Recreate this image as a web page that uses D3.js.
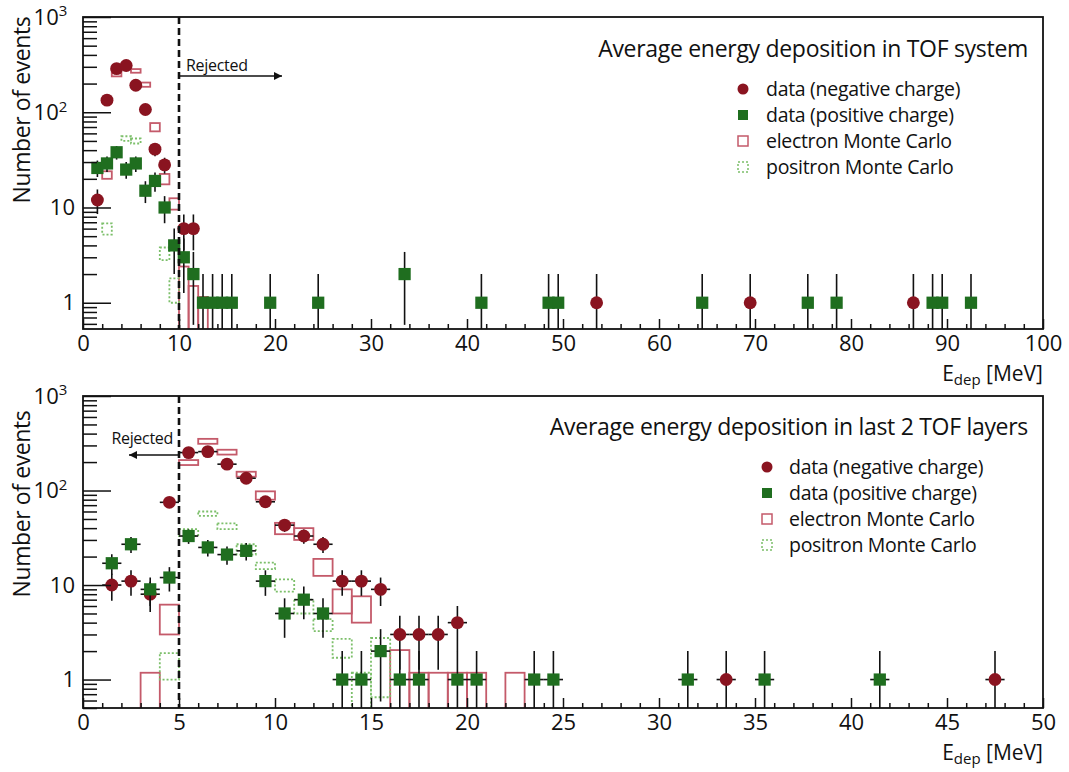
<!DOCTYPE html>
<html><head><meta charset="utf-8">
<script src="https://cdn.jsdelivr.net/npm/d3@7"></script>
<style>
body{margin:0;background:#fff}
svg{display:block}
text{font-family:"Open Sans","DejaVu Sans",sans-serif;fill:#111}
</style>
</head><body>
<svg id="c" width="1069" height="772"></svg>
<script>
// ---------------- DATA ----------------
// Panel 1: average energy deposition in TOF system (bins of 1 MeV)
const topNegE = [1.5,2.5,3.5,4.5,5.5,6.5,7.5,8.5,10.5,11.5,53.5,69.5,86.5];
const topNegN = [12,134,287,310,192,107,41,28,6,6,1,1,1];
const topPosE = [1.5,2.5,3.5,4.5,5.5,6.5,7.5,8.5,9.5,10.5,11.5,12.5,13.5,14.5,15.5,19.5,24.5,33.5,41.5,48.5,49.5,64.5,75.5,78.5,88.5,89.5,92.5];
const topPosN = [26,29,38,25,29,15,19,10,4,3,2,1,1,1,1,1,1,2,1,1,1,1,1,1,1,1,1];
const topElecMcE   = [2.5,3.5,4.5,5.5,6.5,7.5,8.5,9.5,10.5,11.5,12.5];
const topElecMcN   = [22,250,300,272,195,70,20,11,1.3,0.8,0.6];
const topElecMcErr = [2,12,13,12,10,7,2.5,1.5,1.1,0.7,0.55];
const topPosiMcE   = [2.5,4.5,5.5,8.5,9.5];
const topPosiMcN   = [6,53,50,3.3,1.4];
const topPosiMcErr = [0.8,3,3,0.5,0.4];

// Panel 2: average energy deposition in last 2 TOF layers
const botNegE = [1.5,2.5,3.5,4.5,5.5,6.5,7.5,8.5,9.5,10.5,11.5,12.5,13.5,14.5,15.5,16.5,17.5,18.5,19.5,33.5,47.5];
const botNegN = [10,11,8,75,252,258,190,135,76,43,33,27,11,11,9,3,3,3,4,1,1];
const botPosE = [1.5,2.5,3.5,4.5,5.5,6.5,7.5,8.5,9.5,10.5,11.5,12.5,13.5,14.5,15.5,16.5,17.5,19.5,20.5,23.5,24.5,31.5,35.5,41.5];
const botPosN = [17,27,9,12,33,25,21,23,11,5,7,5,1,1,2,1,1,1,1,1,1,1,1,1];
const botElecMcE   = [3.5,4.5,5.5,6.5,7.5,8.5,9.5,10.5,11.5,12.5,13.5,14.5,16.5,17.5,18.5,19.5,20.5,22.5];
const botElecMcN   = [0.6,4.6,198,332,255,149,89,40,35,15.7,7,5.8,1.1,0.6,0.6,0.6,0.6,0.6];
const botElecMcErr = [0.58,1.6,12,20,15,9,9,5.5,5,3.2,2,1.8,0.95,0.58,0.58,0.58,0.58,0.58];
const botPosiMcE   = [4.5,5.5,6.5,7.5,8.5,9.5,10.5,11.5,12.5,13.5,14.5,15.5];
const botPosiMcN   = [1.45,36,57,42,24,16,10,6,3.8,2.2,0.6,1.7];
const botPosiMcErr = [0.45,3,3,3,3,1.3,1.5,1,0.55,0.5,0.58,1.05];

// Texts
const panelTitles = ["Average energy deposition in TOF system", "Average energy deposition in last 2 TOF layers"];
const legendLabels = ["data (negative charge)", "data (positive charge)", "electron Monte Carlo", "positron Monte Carlo"];
const yAxisTitle = "Number of events";
const rejectedLabel = "Rejected";
const topXTicks = [0,10,20,30,40,50,60,70,80,90,100];
const botXTicks = [0,5,10,15,20,25,30,35,40,45,50];
const yMajorTicks = [1,10,100,1000];

// ---------------- STYLE ----------------
const RED = "#8a1420", GREEN = "#1f6e1f", MC_RED = "#c45a6a", MC_GREEN = "#7cbf6a";
const svg = d3.select("#c");
const defs = svg.append("defs");

const panels = [
  {left:83,right:1043,top:17,bottom:329,xDomain:[0,100],yDomain:[0.53,1000],xTicks:topXTicks,xMinorStep:2,cut:10,
   neg:[topNegE,topNegN],pos:[topPosE,topPosN],emc:[topElecMcE,topElecMcN,topElecMcErr],pmc:[topPosiMcE,topPosiMcN,topPosiMcErr],
   title:panelTitles[0],titleY:57,legX:743,legTextX:766,legY:89,ylabY:110,arrowDir:1},
  {left:83,right:1043,top:396,bottom:708,xDomain:[0,50],yDomain:[0.5,1000],xTicks:botXTicks,xMinorStep:1,cut:5,
   neg:[botNegE,botNegN],pos:[botPosE,botPosN],emc:[botElecMcE,botElecMcN,botElecMcErr],pmc:[botPosiMcE,botPosiMcN,botPosiMcErr],
   title:panelTitles[1],titleY:435,legX:767,legTextX:789,legY:467,ylabY:504,arrowDir:-1}
];

defs.append("marker").attr("id","ah").attr("viewBox","0 0 10 10").attr("refX",10).attr("refY",5)
  .attr("markerWidth",14).attr("markerHeight",8).attr("markerUnits","userSpaceOnUse").attr("orient","auto")
  .append("path").attr("d","M0,0 L10,5 L0,10 z").attr("fill","#111");

panels.forEach((p,i)=>{
  const x = d3.scaleLinear().domain(p.xDomain).range([p.left,p.right]);
  const y = d3.scaleLog().domain(p.yDomain).range([p.bottom,p.top]);
  const binW = 1;
  const g = svg.append("g");
  const cid = "clip"+i;
  defs.append("clipPath").attr("id",cid).append("rect")
    .attr("x",p.left).attr("y",p.top).attr("width",p.right-p.left).attr("height",p.bottom-p.top);
  const plot = g.append("g").attr("clip-path",`url(#${cid})`);
  const lo = v => y(Math.max(v, 1e-3));

  // Monte Carlo error boxes
  const mcBoxes = (arr, cls, color, dash) => {
    plot.selectAll("rect."+cls).data(d3.zip(arr[0],arr[1],arr[2])).join("rect")
      .attr("class",cls)
      .attr("x",d=>x(d[0]-binW/2)).attr("width",x(binW)-x(0))
      .attr("y",d=>y(d[1]+d[2])).attr("height",d=>lo(d[1]-d[2])-y(d[1]+d[2]))
      .attr("fill","none").attr("stroke",color).attr("stroke-width",1.8)
      .attr("stroke-dasharray",dash);
  };
  mcBoxes(p.emc,"emc",MC_RED,null);
  mcBoxes(p.pmc,"pmc",MC_GREEN,"2,2");

  // data error bars + markers
  const dataPts = (arr, cls, color, shape) => {
    const pts = d3.zip(arr[0],arr[1]);
    const eg = plot.append("g").attr("stroke","#111").attr("stroke-width",1.6);
    eg.selectAll("line.v").data(pts).join("line").attr("class","v")
      .attr("x1",d=>x(d[0])).attr("x2",d=>x(d[0]))
      .attr("y1",d=>lo(d[1]-Math.sqrt(d[1]))).attr("y2",d=>y(d[1]+Math.sqrt(d[1])));
    eg.selectAll("line.h").data(pts).join("line").attr("class","h")
      .attr("x1",d=>x(d[0]-binW/2)).attr("x2",d=>x(d[0]+binW/2))
      .attr("y1",d=>y(d[1])).attr("y2",d=>y(d[1]));
    const sym = d3.symbol().type(shape==="c"?d3.symbolCircle:d3.symbolSquare).size(shape==="c"?130:150);
    plot.selectAll("path."+cls).data(pts).join("path").attr("class",cls)
      .attr("d",sym).attr("transform",d=>`translate(${x(d[0])},${y(d[1])})`)
      .attr("fill",color);
  };
  dataPts(p.neg,"neg",RED,"c");
  dataPts(p.pos,"pos",GREEN,"s");

  // cut line
  g.append("line").attr("x1",x(p.cut)).attr("x2",x(p.cut)).attr("y1",p.top).attr("y2",p.bottom)
    .attr("stroke","#111").attr("stroke-width",2.6).attr("stroke-dasharray","7,4");

  // Rejected annotation
  if (p.arrowDir>0){
    g.append("text").attr("x",x(p.cut)+7).attr("y",p.top+54).attr("font-size",16).attr("letter-spacing",-0.3).text(rejectedLabel);
    g.append("line").attr("x1",x(p.cut)).attr("x2",x(p.cut)+103).attr("y1",p.top+59).attr("y2",p.top+59)
      .attr("stroke","#111").attr("stroke-width",1.6).attr("marker-end","url(#ah)");
  } else {
    g.append("text").attr("x",x(p.cut)-6).attr("y",p.top+48).attr("font-size",16).attr("letter-spacing",-0.3).attr("text-anchor","end").text(rejectedLabel);
    g.append("line").attr("x1",x(p.cut)).attr("x2",x(p.cut)-50).attr("y1",p.top+59).attr("y2",p.top+59)
      .attr("stroke","#111").attr("stroke-width",1.6).attr("marker-end","url(#ah)");
  }

  // axes
  const xMajor = d3.axisBottom(x).tickValues(p.xTicks).tickSize(-10).tickPadding(6).tickFormat(d3.format("d"));
  const xMinorVals = d3.range(p.xDomain[0], p.xDomain[1]+1e-9, p.xMinorStep).filter(v=>!p.xTicks.includes(v));
  const xMinor = d3.axisBottom(x).tickValues(xMinorVals).tickSize(-5).tickFormat("");
  const yMinorVals = [];
  [0.1,1,10,100].forEach(d=>{ for(let k=2;k<=9;k++){ const v=k*d; if(v>=p.yDomain[0]&&v<=p.yDomain[1]) yMinorVals.push(v);} });
  const yMajor = d3.axisLeft(y).tickValues(yMajorTicks).tickSize(-28).tickPadding(8).tickFormat(d=>d>=100?"10":String(d));
  const yMinor = d3.axisLeft(y).tickValues(yMinorVals).tickSize(-14).tickFormat("");

  const axStyle = sel => { sel.select(".domain").remove(); sel.attr("font-family",null).attr("font-size",22);
    sel.selectAll("line").attr("stroke","#111").attr("stroke-width",1.5); sel.selectAll("text").attr("fill","#111"); };
  g.append("g").attr("transform",`translate(0,${p.bottom})`).call(xMajor).call(axStyle);
  g.append("g").attr("transform",`translate(0,${p.bottom})`).call(xMinor).call(axStyle);
  const ya = g.append("g").attr("transform",`translate(${p.left},0)`).call(yMajor).call(axStyle);
  g.append("g").attr("transform",`translate(${p.left},0)`).call(yMinor).call(axStyle);
  ya.selectAll(".tick text").each(function(d){
    if (d>=100){ const t=d3.select(this); t.attr("dx","-0.35em");
      t.append("tspan").attr("dy","-0.55em").attr("font-size",15).text(String(Math.round(Math.log10(d)))); }
  });

  // frame
  g.append("rect").attr("x",p.left).attr("y",p.top).attr("width",p.right-p.left).attr("height",p.bottom-p.top)
    .attr("fill","none").attr("stroke","#111").attr("stroke-width",1.8);

  // axis titles
  g.append("text").attr("transform",`translate(30,${p.ylabY}) rotate(-90)`).attr("text-anchor","middle")
    .attr("font-size",23).attr("letter-spacing",-0.4).text(yAxisTitle);
  const xt = g.append("text").attr("x",p.right).attr("y",p.bottom+52).attr("text-anchor","end").attr("font-size",21);
  xt.append("tspan").text("E");
  xt.append("tspan").attr("font-size",15).attr("dy",4).text("dep");
  xt.append("tspan").attr("dy",-4).text(" [MeV]");

  // title
  g.append("text").attr("x",1028).attr("y",p.titleY).attr("text-anchor","end").attr("font-size",23)
    .attr("letter-spacing",-0.3).text(p.title);

  // legend
  const lg = g.append("g");
  legendLabels.forEach((lab,k)=>{
    const ly = p.legY + k*26;
    const cx = p.legX;
    if (k===0) lg.append("circle").attr("cx",cx).attr("cy",ly).attr("r",5.5).attr("fill",RED);
    if (k===1) lg.append("rect").attr("x",cx-5).attr("y",ly-5).attr("width",10).attr("height",10).attr("fill",GREEN);
    if (k===2) lg.append("rect").attr("x",cx-5).attr("y",ly-5).attr("width",10).attr("height",10).attr("fill","none").attr("stroke",MC_RED).attr("stroke-width",1.5);
    if (k===3) lg.append("rect").attr("x",cx-5).attr("y",ly-5).attr("width",10).attr("height",10).attr("fill","none").attr("stroke",MC_GREEN).attr("stroke-width",1.5).attr("stroke-dasharray","2,2");
    lg.append("text").attr("x",p.legTextX).attr("y",ly).attr("dy","0.35em").attr("font-size",19.5)
      .attr("letter-spacing",-0.3).text(lab);
  });
});
</script>
</body></html>
